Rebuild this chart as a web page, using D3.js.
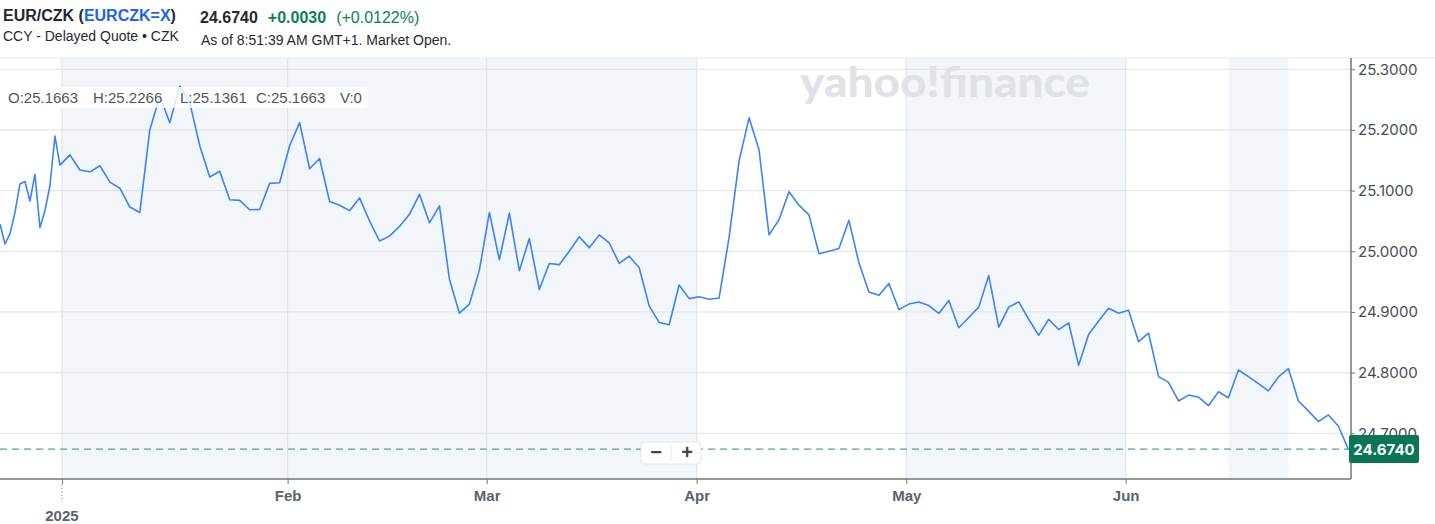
<!DOCTYPE html>
<html><head><meta charset="utf-8">
<script src="https://cdn.jsdelivr.net/npm/d3@7"></script>
<style>
html,body{margin:0;padding:0;background:#fff;}
svg{display:block;font-family:"Liberation Sans",Arial,sans-serif;}
</style></head><body>
<svg id="chart" width="1435" height="524"></svg>
<script>
// ---- data ----
// late-December points come at half trading-day steps
const earlyValues = [25.045, 25.012, 25.029, 25.064, 25.111, 25.115, 25.083, 25.127, 25.039, 25.067, 25.108, 25.190];
// one close per trading day, starting 31 Dec 2024
const closeValues = [
  25.142, 25.159, 25.134, 25.131, 25.141, 25.114, 25.104, 25.073, 25.064, 25.200,
  25.256, 25.212, 25.2725, 25.245, 25.174, 25.1225, 25.132, 25.085, 25.084, 25.0685,
  25.069, 25.112, 25.113, 25.174, 25.212, 25.136, 25.153, 25.082, 25.076, 25.067,
  25.088, 25.050, 25.017, 25.025, 25.041, 25.061, 25.094, 25.047, 25.075, 24.954,
  24.898, 24.913, 24.969, 25.064, 24.986, 25.063, 24.968, 25.021, 24.937, 24.980,
  24.978, 25.000, 25.024, 25.006, 25.027, 25.014, 24.980, 24.992, 24.973, 24.910,
  24.8825, 24.879, 24.9445, 24.922, 24.925, 24.921, 24.923, 25.023, 25.149, 25.220,
  25.167, 25.027, 25.052, 25.098, 25.076, 25.060, 24.996, 25.000, 25.0045, 25.051,
  24.981, 24.933, 24.9275, 24.947, 24.904, 24.913, 24.9165, 24.9105, 24.8975, 24.919,
  24.874, 24.891, 24.908, 24.960, 24.875, 24.908, 24.9166, 24.888, 24.8615, 24.888,
  24.871, 24.882, 24.812, 24.863, 24.885, 24.906, 24.898, 24.903, 24.851, 24.865,
  24.7935, 24.784, 24.7533, 24.763, 24.7595, 24.7455, 24.7685, 24.7586, 24.8044, 24.7935,
  24.782, 24.770, 24.7929, 24.8068, 24.7533, 24.737, 24.7194, 24.7303, 24.7121, 24.674
];
const yTickValues = [24.7, 24.8, 24.9, 25.0, 25.1, 25.2, 25.3];
const monthTickIdx = [0.2, 22.8, 42.73, 63.75, 84.74, 106.71];
const monthLabels = ["2025", "Feb", "Mar", "Apr", "May", "Jun"];
const shadedBands = [[0.2, 63.75], [84.74, 106.71], [117, 123]];
const lastPrice = 24.674;
const ohlcLabels = ["O:25.1663", "H:25.2266", "L:25.1361", "C:25.1663", "V:0"];
const headerSymbol = "EUR/CZK";
const headerTicker = "EURCZK=X";
const headerPrice = "24.6740";
const headerChange = "+0.0030";
const headerPct = "(+0.0122%)";
const headerSub = "CCY - Delayed Quote \u2022 CZK";
const headerTime = "As of 8:51:39 AM GMT+1. Market Open.";

// ---- layout ----
const W = 1435, H = 524;
const plot = {left: 0, right: 1351, top: 58, bottom: 479};

const series = earlyValues.map((v, i) => ({i: -6 + 0.5 * i, v}))
  .concat(closeValues.map((v, i) => ({i, v})));

const x = d3.scaleLinear().domain([-6, 129.27]).range([plot.left, plot.right]);
const y = d3.scaleLinear().domain([24.6247, 25.3186]).range([plot.bottom, plot.top]);

const svg = d3.select("#chart");
svg.append("rect").attr("width", W).attr("height", H).attr("fill", "#fff");

// header
const h1 = svg.append("text").attr("x", 3).attr("y", 21).attr("font-size", 16).attr("font-weight", 700).attr("fill", "#232a31");
h1.append("tspan").text(headerSymbol + " (");
h1.append("tspan").attr("fill", "#1d63ed").text(headerTicker);
h1.append("tspan").text(")");
svg.append("text").attr("x", 3).attr("y", 41).attr("font-size", 14).attr("fill", "#232a31").text(headerSub);
const h2 = svg.append("text").attr("x", 200).attr("y", 23).attr("font-size", 16).attr("font-weight", 700);
h2.append("tspan").attr("fill", "#232a31").text(headerPrice);
h2.append("tspan").attr("dx", 10).attr("fill", "#0b7f59").text(headerChange);
h2.append("tspan").attr("dx", 10).attr("fill", "#0b7f59").attr("font-weight", 400).text(headerPct);
svg.append("text").attr("x", 201).attr("y", 45).attr("font-size", 14).attr("fill", "#232a31").text(headerTime);

// plot background bands
const g = svg.append("g");
g.selectAll("rect.band").data(shadedBands).join("rect").attr("class", "band")
  .attr("x", d => x(d[0])).attr("width", d => x(d[1]) - x(d[0]))
  .attr("y", plot.top).attr("height", plot.bottom - plot.top).attr("fill", "#f2f5f9");

// top border line
g.append("line").attr("x1", 0).attr("x2", W).attr("y1", plot.top).attr("y2", plot.top)
  .attr("stroke", "#e6e9ed").attr("stroke-width", 1);

// horizontal grid
g.selectAll("line.hg").data(yTickValues).join("line").attr("class", "hg")
  .attr("x1", plot.left).attr("x2", plot.right).attr("y1", d => y(d)).attr("y2", d => y(d))
  .attr("stroke", "#e3e6ea").attr("stroke-width", 1.2);
// vertical grid
g.selectAll("line.vg").data(monthTickIdx).join("line").attr("class", "vg")
  .attr("x1", d => x(d)).attr("x2", d => x(d)).attr("y1", plot.top).attr("y2", plot.bottom)
  .attr("stroke", "#e1e4e8").attr("stroke-width", 1.2);

// watermark
g.append("text").attr("x", 800).attr("y", 97).attr("font-family", "Lato, 'Open Sans', sans-serif")
  .attr("font-weight", 900).attr("font-size", 42).attr("fill", "#dfe3e8")
  .attr("textLength", 290).attr("lengthAdjust", "spacingAndGlyphs").text("yahoo!finance");

// clip
svg.append("clipPath").attr("id", "clip").append("rect")
  .attr("x", plot.left).attr("y", plot.top).attr("width", plot.right - plot.left).attr("height", plot.bottom - plot.top);

// last price dashed line
g.append("line").attr("x1", plot.left).attr("x2", plot.right).attr("y1", y(lastPrice)).attr("y2", y(lastPrice))
  .attr("stroke", "#4fa58c").attr("stroke-width", 1.2).attr("stroke-dasharray", "7,5");

// price line
const line = d3.line().x(d => x(d.i)).y(d => y(d.v));
g.append("path").datum(series).attr("clip-path", "url(#clip)")
  .attr("d", line).attr("fill", "none").attr("stroke", "#3b84f5").attr("stroke-width", 1.6)
  .attr("stroke-linejoin", "round");

// OHLC overlay
g.append("rect").attr("x", 0).attr("y", 87).attr("width", 368).attr("height", 21).attr("rx", 4)
  .attr("fill", "rgba(255,255,255,0.82)");
const ohlcX = [8, 93, 180, 256, 340];
g.selectAll("text.ohlc").data(ohlcLabels).join("text").attr("class", "ohlc")
  .attr("x", (d, i) => ohlcX[i]).attr("y", 102.5).attr("font-size", 15).attr("fill", "#50575e").text(d => d);

// y axis
const yAxis = d3.axisRight(y).tickValues(yTickValues).tickFormat(d3.format(".4f")).tickSize(4).tickPadding(3);
const ya = svg.append("g").attr("transform", `translate(${plot.right},0)`).call(yAxis);
ya.select(".domain").attr("stroke", "#6f767d").attr("stroke-width", 1.5).attr("d", `M0,${plot.top}V${plot.bottom}`);
ya.selectAll(".tick line").attr("stroke", "#6f767d");
ya.selectAll(".tick text").attr("font-size", 15).attr("fill", "#464e56").attr("font-family", "Inter, 'Liberation Sans', sans-serif");

// x axis
const xAxis = d3.axisBottom(x).tickValues(monthTickIdx).tickFormat((d, i) => i === 0 ? "" : monthLabels[i]).tickSize(5).tickPadding(6);
const xa = svg.append("g").attr("transform", `translate(0,${plot.bottom})`).call(xAxis);
xa.select(".domain").attr("stroke", "#6f767d").attr("stroke-width", 1.5).attr("d", `M${plot.left},0H${plot.right}`);
xa.selectAll(".tick line").attr("stroke", "#6f767d");
xa.selectAll(".tick text").attr("font-size", 15).attr("font-weight", 700).attr("fill", "#5b636a");
// year marker
svg.append("line").attr("x1", x(monthTickIdx[0])).attr("x2", x(monthTickIdx[0]))
  .attr("y1", plot.bottom + 5).attr("y2", plot.bottom + 23).attr("stroke", "#8a9097").attr("stroke-dasharray", "1.5,2");
svg.append("text").attr("x", x(monthTickIdx[0])).attr("y", 521).attr("text-anchor", "middle")
  .attr("font-size", 15).attr("font-weight", 700).attr("fill", "#5b636a").text(monthLabels[0]);

// price tag
svg.append("rect").attr("x", plot.right - 2).attr("y", y(lastPrice) - 14).attr("width", 70).attr("height", 28).attr("rx", 2)
  .attr("fill", "#0a7656");
svg.append("text").attr("x", plot.right + 33).attr("y", y(lastPrice) + 5.5).attr("text-anchor", "middle")
  .attr("font-size", 15).attr("font-weight", 700).attr("fill", "#fff")
  .attr("font-family", "Inter, 'Liberation Sans', sans-serif").text(lastPrice.toFixed(4));

// zoom buttons
const zb = svg.append("g").attr("transform", "translate(641,442)");
zb.append("rect").attr("width", 60).attr("height", 22).attr("rx", 4).attr("fill", "#fff")
  .attr("stroke", "#e4e7ea").attr("stroke-width", 1);
zb.append("line").attr("x1", 30).attr("x2", 30).attr("y1", 3).attr("y2", 19).attr("stroke", "#e4e7ea");
zb.append("text").attr("x", 15).attr("y", 17).attr("text-anchor", "middle").attr("font-size", 20).attr("font-weight", 700).attr("fill", "#40464c").text("\u2212");
zb.append("text").attr("x", 46).attr("y", 17).attr("text-anchor", "middle").attr("font-size", 20).attr("font-weight", 700).attr("fill", "#40464c").text("+");
</script>
</body></html>
